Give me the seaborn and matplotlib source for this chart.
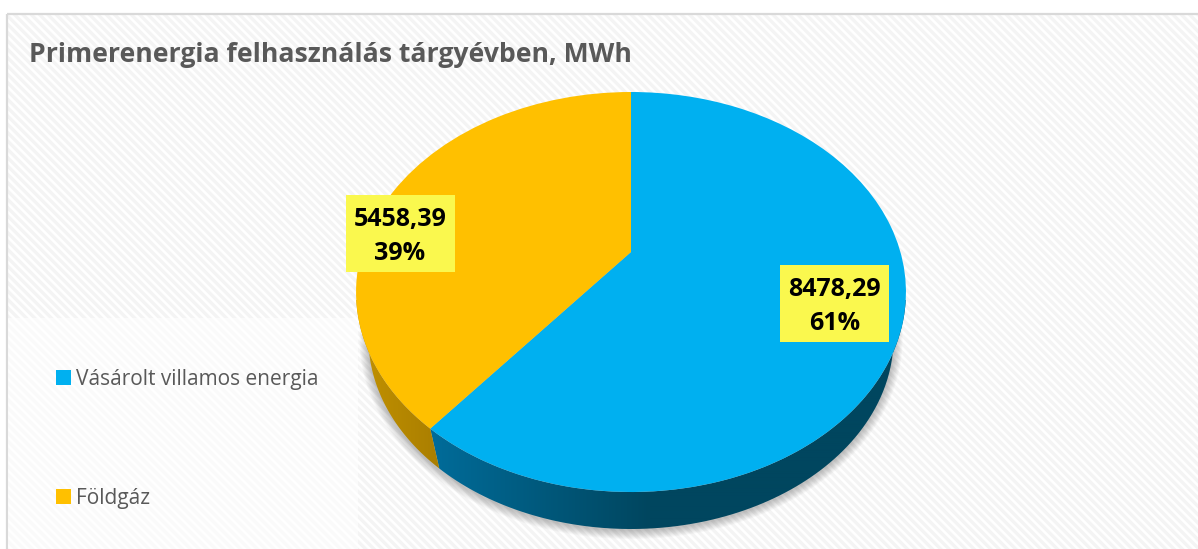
import numpy as np
import matplotlib
matplotlib.use("Agg")
import matplotlib.pyplot as plt
from matplotlib.colors import LinearSegmentedColormap
from matplotlib.patches import Polygon, Rectangle
from matplotlib.transforms import Transform
import seaborn as sns

title = "Primerenergia felhasználás tárgyévben, MWh"
categories = ["Vásárolt villamos energia", "Földgáz"]
values = [8478.29, 5458.39]
percent_labels = ["61%", "39%"]
top_colors = ["#00B0F0", "#FFC000"]
wall_colors = [("#006C9A", "#00465F"), ("#C49300", "#A87D00")]
label_centres = [(834.5, 303.5), (400, 233.5)]

sns.set_theme(style="white")
plt.rcParams["font.family"] = ["Open Sans", "DejaVu Sans"]
plt.rcParams["hatch.linewidth"] = 2.4
plt.rcParams["hatch.color"] = "#F4F4F4"
palette = sns.color_palette(top_colors)


class Tilt(Transform):
    """Perspective view of the unit disc, in figure pixels."""
    input_dims = output_dims = 2
    has_inverse = False
    is_separable = False

    def __init__(self, cx=631.0, cy=252.0, sx=269.4, sy=192.0, k=0.2):
        super().__init__()
        self.p = (cx, cy, sx, sy, k)

    def transform_non_affine(self, xy):
        cx, cy, sx, sy, k = self.p
        xy = np.asarray(xy, float)
        down = -xy[:, 1]
        w = 1 - k * down
        return np.column_stack([cx + sx * xy[:, 0] / w, cy + sy * down / w])


top_map = Tilt()
low_scale = 0.955
low_map = Tilt(cy=299.8, sx=269.4 * low_scale, sy=192.0 * low_scale)

fig = plt.figure(figsize=(11.98, 5.49), dpi=100, facecolor="white")
ax = fig.add_axes([0, 0, 1, 1])


def frame_axes():
    ax.set_aspect("auto")
    ax.set_xlim(0, 1198)
    ax.set_ylim(549, 0)
    ax.set_axis_off()


# chart area with the diagonal stripes
ax.add_patch(Rectangle((7, 14), 1200, 540, facecolor="white", edgecolor="none", zorder=0))
ax.add_patch(Rectangle((7, 14), 1200, 540, facecolor="none", edgecolor="#F4F4F4",
                       hatch="\\\\\\\\", linewidth=0, zorder=0.5))
ax.add_patch(Rectangle((7, 14), 1200, 540, facecolor="none", edgecolor="#D9D9D9",
                       linewidth=1.6, zorder=0.6))
ax.add_patch(Rectangle((8, 318), 350, 240, facecolor="white", edgecolor="none",
                       alpha=0.62, zorder=0.7))

# soft shadow round the lower rim
t = np.linspace(0, 2 * np.pi, 361)
circle = np.column_stack([np.cos(t), np.sin(t)])
rim = low_map.transform_non_affine(circle)
for d in np.arange(9, 0, -1.0):
    grow = np.column_stack([631 + (rim[:, 0] - 631) * (1 + d / 263),
                            338 + (rim[:, 1] - 338) * (1 + d / 191) + 1])
    ax.fill(grow[:, 0], grow[:, 1], color="black", alpha=0.028, lw=0, zorder=1)

# side walls, from the same fractions as the pie
fractions = np.cumsum([0] + values) / sum(values)
ramps = [(430, 650), (350, 445)]
for i in range(len(values)):
    a = np.linspace(fractions[i], fractions[i + 1], 200) * 2 * np.pi
    unit = np.column_stack([np.sin(a), np.cos(a)])
    outline = np.vstack([top_map.transform_non_affine(unit),
                         low_map.transform_non_affine(unit)[::-1]])
    cmap = LinearSegmentedColormap.from_list("wall", wall_colors[i])
    x0, x1 = ramps[i]
    ramp = np.clip((np.linspace(340, 920, 1160) - x0) / (x1 - x0), 0, 1)[None, :]
    im = ax.imshow(ramp, cmap=cmap, vmin=0, vmax=1, extent=(340, 920, 540, 300),
                   aspect="auto", zorder=2, interpolation="bilinear")
    im.set_clip_path(Polygon(outline, closed=True, transform=ax.transData))

# top face
wedges, _ = ax.pie(values, colors=palette, startangle=90, counterclock=False,
                   wedgeprops={"linewidth": 0, "zorder": 3})
for w in wedges:
    w.set_transform(top_map + ax.transData)
frame_axes()

# value labels
for (cx, cy), v, p in zip(label_centres, values, percent_labels):
    ax.add_patch(Rectangle((cx - 54.5, cy - 38.5), 109, 77, facecolor="#FAF84E",
                           edgecolor="none", zorder=4))
    ax.text(cx, cy + 3, f"{v:.2f}".replace(".", ",") + "\n" + p, ha="center", va="center",
            fontsize=18, fontweight="bold", color="black", linespacing=1.45, zorder=5)

ax.text(29, 55, title, ha="left", va="center", fontsize=19.2, fontweight="bold",
        color="#595959", zorder=5)

leg = ax.legend(wedges, categories, loc="upper left", bbox_to_anchor=(56 / 1198, 1 - 368.5 / 549),
                bbox_transform=fig.transFigure, frameon=False, fontsize=15, labelcolor="#595959",
                handlelength=0.72, handleheight=0.72, handletextpad=0.24, labelspacing=4.72,
                borderpad=0, borderaxespad=0)
leg.set_zorder(6)

fig.savefig("out.png", dpi=100)
